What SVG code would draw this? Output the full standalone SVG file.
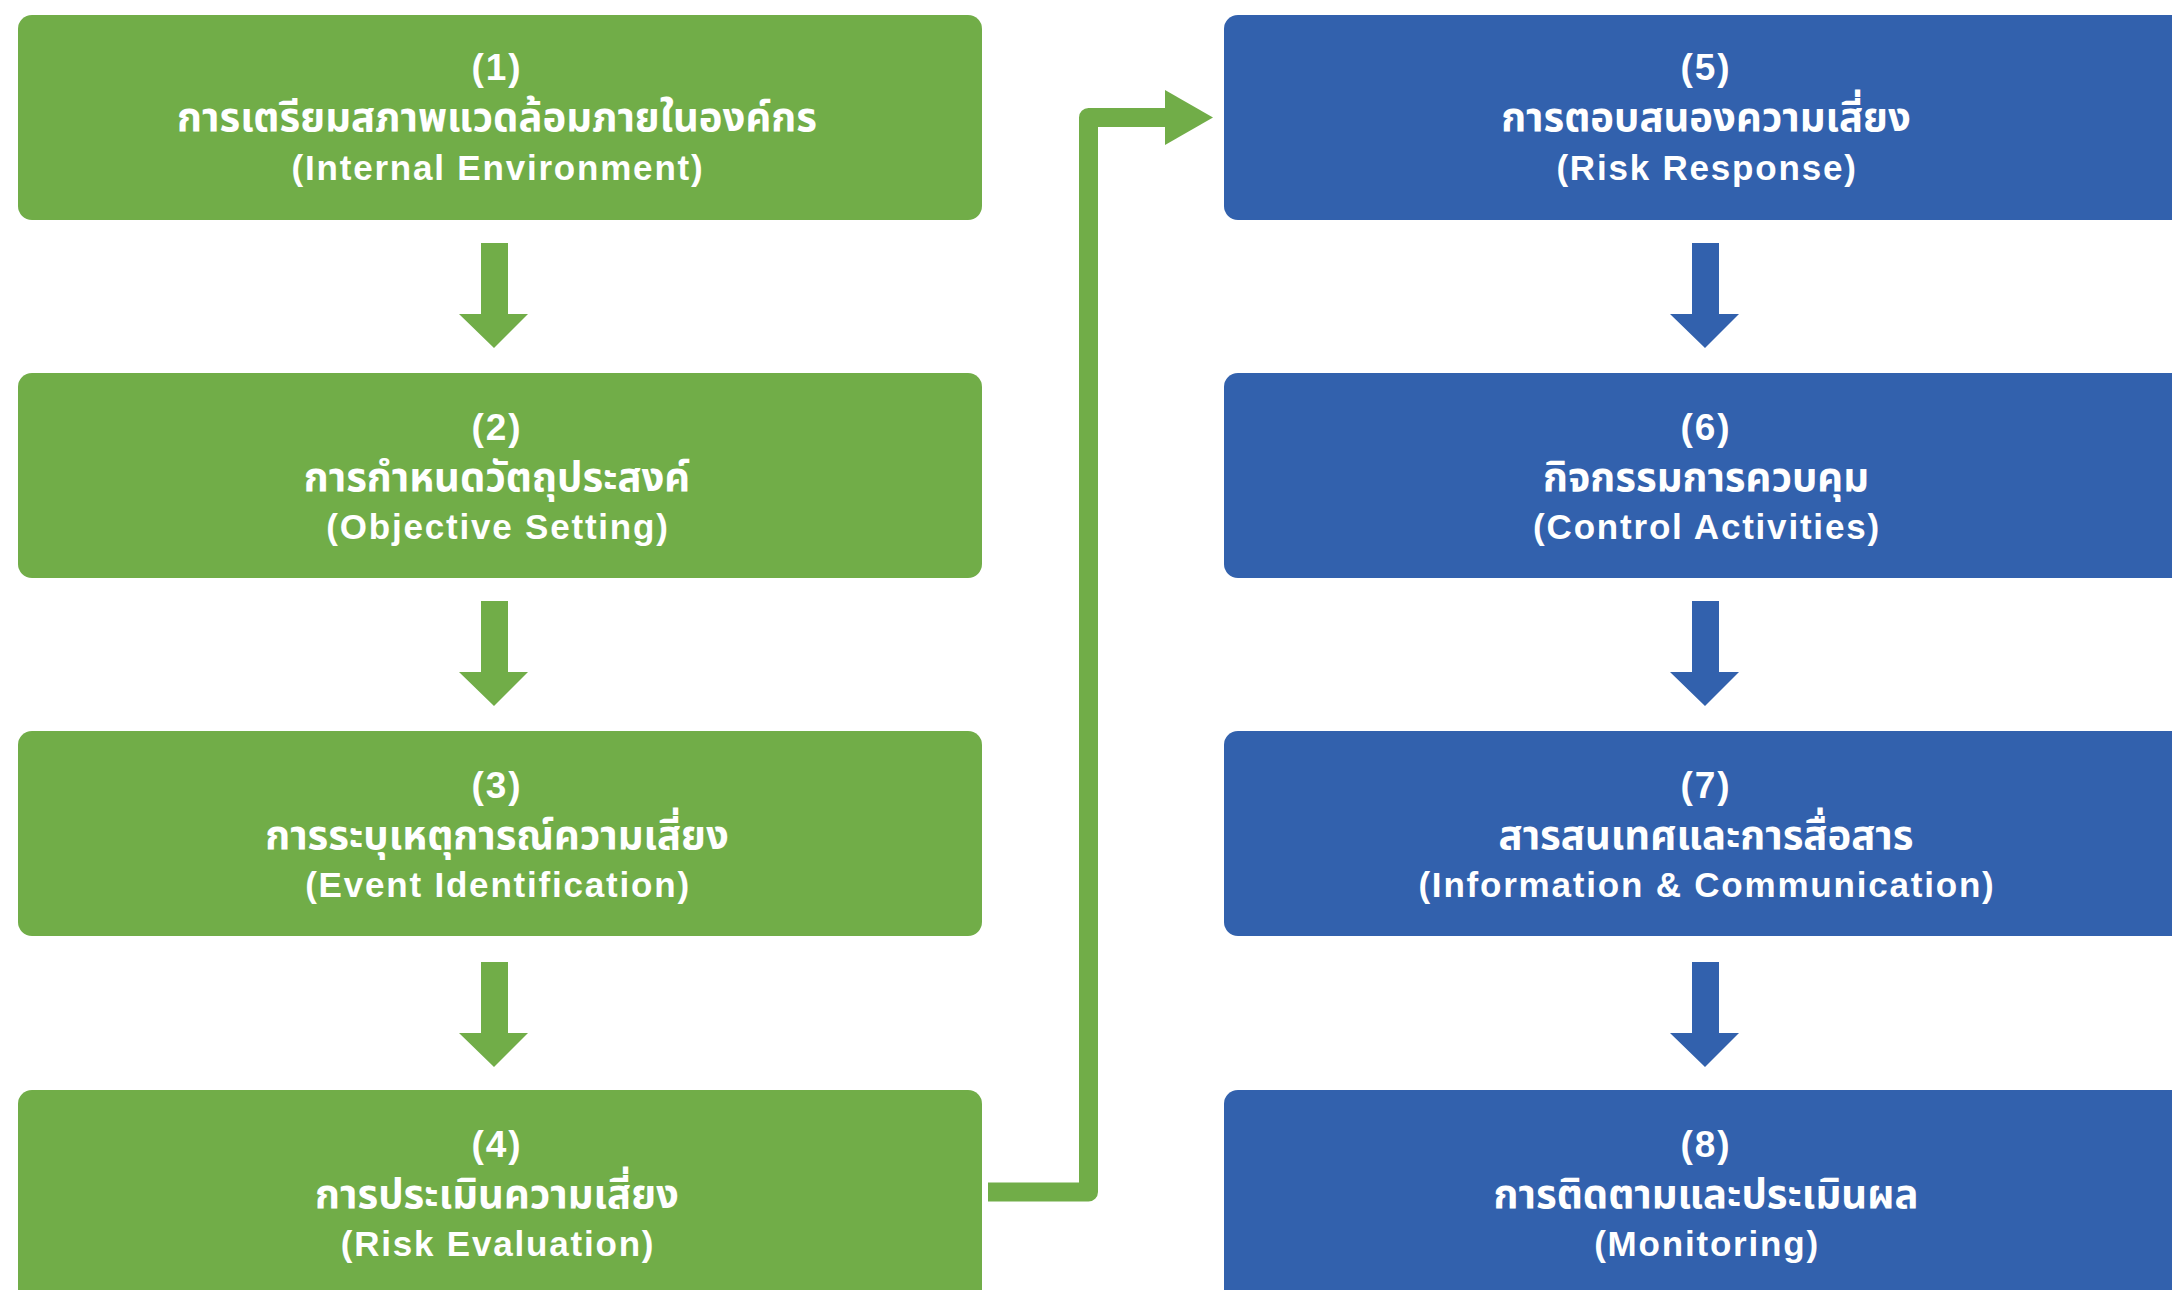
<svg xmlns="http://www.w3.org/2000/svg" width="2172" height="1290" viewBox="0 0 2172 1290">
<style>
.g{fill:#71AD48}
.b{fill:#3261AD}
.t{fill:#fff;font-family:"Liberation Sans",Arial,sans-serif;font-weight:bold;text-anchor:middle}
.num{font-size:37px;letter-spacing:2px}
.th{font-size:40px;font-family:"Noto Sans Thai","Noto Sans","DejaVu Sans",sans-serif;font-weight:bold}
.en{font-size:35px;letter-spacing:1.8px}
</style>
<rect width="2172" height="1290" fill="#fff"/>
<g id="node1"><rect class="g" x="18" y="15" width="964" height="205" rx="14"/>
<text class="t num" x="497" y="80">(1)</text>
<text class="t th" x="497" y="131">การเตรียมสภาพแวดล้อมภายในองค์กร</text>
<text class="t en" x="498" y="180">(Internal Environment)</text></g>
<g id="node2"><rect class="g" x="18" y="373" width="964" height="205" rx="14"/>
<text class="t num" x="497" y="440">(2)</text>
<text class="t th" x="497" y="491">การกำหนดวัตถุประสงค์</text>
<text class="t en" x="498" y="539">(Objective Setting)</text></g>
<g id="node3"><rect class="g" x="18" y="731" width="964" height="205" rx="14"/>
<text class="t num" x="497" y="798">(3)</text>
<text class="t th" x="497" y="849">การระบุเหตุการณ์ความเสี่ยง</text>
<text class="t en" x="498" y="897">(Event Identification)</text></g>
<g id="node4"><rect class="g" x="18" y="1090" width="964" height="220" rx="14"/>
<text class="t num" x="497" y="1157">(4)</text>
<text class="t th" x="497" y="1208">การประเมินความเสี่ยง</text>
<text class="t en" x="498" y="1256">(Risk Evaluation)</text></g>
<g id="node5"><rect class="b" x="1224" y="15" width="964" height="205" rx="14"/>
<text class="t num" x="1706" y="80">(5)</text>
<text class="t th" x="1706" y="131">การตอบสนองความเสี่ยง</text>
<text class="t en" x="1707" y="180">(Risk Response)</text></g>
<g id="node6"><rect class="b" x="1224" y="373" width="964" height="205" rx="14"/>
<text class="t num" x="1706" y="440">(6)</text>
<text class="t th" x="1706" y="491">กิจกรรมการควบคุม</text>
<text class="t en" x="1707" y="539">(Control Activities)</text></g>
<g id="node7"><rect class="b" x="1224" y="731" width="964" height="205" rx="14"/>
<text class="t num" x="1706" y="798">(7)</text>
<text class="t th" x="1706" y="849">สารสนเทศและการสื่อสาร</text>
<text class="t en" x="1707" y="897">(Information &amp; Communication)</text></g>
<g id="node8"><rect class="b" x="1224" y="1090" width="964" height="220" rx="14"/>
<text class="t num" x="1706" y="1157">(8)</text>
<text class="t th" x="1706" y="1208">การติดตามและประเมินผล</text>
<text class="t en" x="1707" y="1256">(Monitoring)</text></g>
<g id="connectors" stroke-linejoin="round">
<path class="g" d="M481,243 H508 V314 H528 L494,348 L459,314 H481 Z"/>
<path class="g" d="M481,601 H508 V672 H528 L494,706 L459,672 H481 Z"/>
<path class="g" d="M481,962 H508 V1033 H528 L494,1067 L459,1033 H481 Z"/>
<path class="b" d="M1692,243 H1719 V314 H1739 L1705,348 L1670,314 H1692 Z"/>
<path class="b" d="M1692,601 H1719 V672 H1739 L1705,706 L1670,672 H1692 Z"/>
<path class="b" d="M1692,962 H1719 V1033 H1739 L1705,1067 L1670,1033 H1692 Z"/>
<path d="M988,1192 H1088.5 V117.5 H1167" fill="none" stroke="#71AD48" stroke-width="19" stroke-linejoin="round"/>
<polygon class="g" points="1165,90 1213,117.5 1165,145"/>
</g>
</svg>
